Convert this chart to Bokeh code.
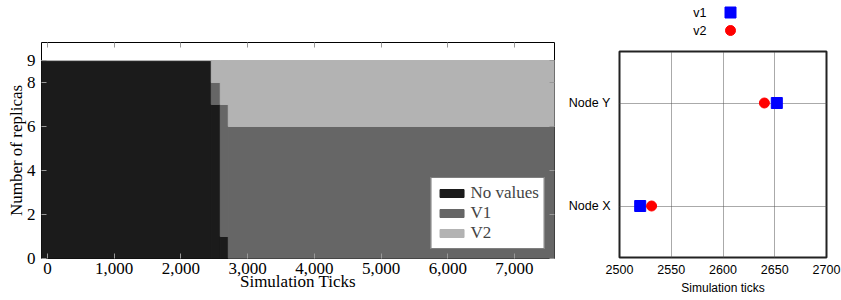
from bokeh.plotting import figure
from bokeh.layouts import row, column
from bokeh.models import (Range1d, FactorRange, FixedTicker, NumeralTickFormatter,
                          ColumnDataSource, LinearAxis)
from bokeh.embed import file_html
from bokeh.resources import INLINE

# ---- left chart data: replica states over time (step boundaries) ----
t_edges = [-90, 2455, 2590, 2710, 7600]
no_values = [9, 7, 1, 0]
v1_counts = [0, 1, 6, 6]
v2_counts = [0, 1, 2, 3]
left_yticks = [0, 2, 4, 6, 8, 9]
left_xticks = [0, 1000, 2000, 3000, 4000, 5000, 6000, 7000]

# ---- right chart data ----
nodes = ["Node X", "Node Y"]
v1_ticks = [2520, 2652]
v2_ticks = [2531, 2640]
right_xticks = [2500, 2550, 2600, 2650, 2700]
series_names = ["v1", "v2"]

SERIF = "Liberation Serif"
SANS = "Liberation Sans"

mids = [(a + b) / 2 for a, b in zip(t_edges[:-1], t_edges[1:])]
widths = [b - a for a, b in zip(t_edges[:-1], t_edges[1:])]
src = ColumnDataSource(dict(mid=mids, w=widths, nv=no_values, v1=v1_counts, v2=v2_counts))

p1 = figure(width=564, height=298, output_backend="svg", toolbar_location=None,
            x_range=Range1d(t_edges[0], t_edges[-1]), y_range=Range1d(0, 9.82),
            frame_align=False,
            min_border_left=41, min_border_right=10, min_border_top=42, min_border_bottom=40)
rs = p1.vbar_stack(["nv", "v1", "v2"], x="mid", width="w", source=src,
                   color=["#1b1b1b", "#666666", "#b3b3b3"], line_width=1,
                   legend_label=["No values", "V1", "V2"])
p1.xgrid.visible = False
p1.ygrid.visible = False
p1.outline_line_color = "black"
p1.outline_line_width = 1
p1.xaxis.ticker = FixedTicker(ticks=left_xticks)
p1.xaxis.formatter = NumeralTickFormatter(format="0,0")
p1.yaxis.ticker = FixedTicker(ticks=left_yticks)
p1.xaxis.axis_label = "Simulation Ticks"
p1.yaxis.axis_label = "Number of replicas"
for ax in (p1.xaxis[0], p1.yaxis[0]):
    ax.axis_line_color = None
    ax.major_tick_in = 5
    ax.major_tick_out = 0
    ax.major_tick_line_color = "#999999"
    ax.minor_tick_line_color = None
    ax.major_label_text_font = SERIF
    ax.major_label_text_font_size = "17px"
    ax.major_label_text_color = "black"
    ax.axis_label_text_font = SERIF
    ax.axis_label_text_font_size = "17px"
    ax.axis_label_text_font_style = "normal"
    ax.axis_label_text_color = "black"
p1.xaxis.major_label_standoff = 4
p1.xaxis.axis_label_standoff = -5
p1.yaxis.major_label_standoff = 6
p1.yaxis.axis_label_standoff = -2

# mirrored inner ticks on the top and right edges (labels not painted)
top_ax = LinearAxis(ticker=FixedTicker(ticks=left_xticks), axis_line_color=None,
                    major_tick_in=5, major_tick_out=0, major_tick_line_color="#999999",
                    minor_tick_line_color=None, major_label_text_color=None,
                    major_label_standoff=0, major_label_text_font_size="10px")
right_ax = LinearAxis(ticker=FixedTicker(ticks=left_yticks), axis_line_color=None,
                      major_tick_in=5, major_tick_out=0, major_tick_line_color="#999999",
                      minor_tick_line_color=None, major_label_text_color=None,
                      major_label_standoff=0, major_label_text_font_size="8px")
p1.add_layout(top_ax, "above")
p1.add_layout(right_ax, "right")

leg1 = p1.legend[0]
leg1.location = "bottom_right"
leg1.margin = 9
leg1.padding = 5
leg1.spacing = 0
leg1.glyph_width = 30
leg1.glyph_height = 10
leg1.label_height = 20
leg1.label_standoff = 4
leg1.label_text_font = SERIF
leg1.label_text_font_size = "17px"
leg1.border_line_color = "black"
leg1.border_line_width = 1
leg1.background_fill_alpha = 1

# ---- right chart: key (label left of marker) ----
pk = figure(width=277, height=42, output_backend="svg", toolbar_location=None,
            x_range=Range1d(-1, 1), y_range=FactorRange(factors=series_names[::-1], range_padding=0),
            x_axis_location=None, frame_align=False,
            min_border_left=157, min_border_right=102, min_border_top=3, min_border_bottom=3)
pk.outline_line_color = None
pk.xgrid.visible = False
pk.ygrid.visible = False
pk.scatter([0], [series_names[0]], marker="square", size=11, color="#0000ff")
pk.scatter([0], [series_names[1]], marker="circle", size=10, color="#ff0000")
pk.yaxis.axis_line_color = None
pk.yaxis.major_tick_line_color = None
pk.yaxis.minor_tick_line_color = None
pk.yaxis.major_label_standoff = 9
pk.yaxis.major_label_text_font = SANS
pk.yaxis.major_label_text_font_size = "12.5px"
pk.yaxis.major_label_text_color = "black"

# ---- right chart ----
p2 = figure(width=277, height=256, output_backend="svg", toolbar_location=None,
            x_range=Range1d(right_xticks[0], right_xticks[-1]),
            y_range=FactorRange(factors=nodes, range_padding=0),
            frame_align=False,
            min_border_left=55, min_border_right=15, min_border_top=9, min_border_bottom=41)
p2.scatter(v1_ticks, nodes, marker="square", size=11, color="#0000ff")
p2.scatter(v2_ticks, nodes, marker="circle", size=10, color="#ff0000")
p2.outline_line_color = "#222222"
p2.outline_line_width = 2
p2.xaxis.ticker = FixedTicker(ticks=right_xticks)
p2.xaxis.axis_label = "Simulation ticks"
for g in (p2.xgrid[0], p2.ygrid[0]):
    g.grid_line_color = "#555555"
    g.grid_line_dash = "1 1"
    g.grid_line_width = 1
for ax in (p2.xaxis[0], p2.yaxis[0]):
    ax.axis_line_color = None
    ax.major_tick_in = 0
    ax.major_tick_out = 0
    ax.minor_tick_line_color = None
    ax.major_label_text_font = SANS
    ax.major_label_text_font_size = "12.5px"
    ax.major_label_text_color = "black"
    ax.axis_label_text_font = SANS
    ax.axis_label_text_font_size = "12px"
    ax.axis_label_text_font_style = "normal"
    ax.axis_label_text_color = "black"
p2.xaxis.major_label_standoff = 7
p2.xaxis.axis_label_standoff = 4
p2.yaxis.major_label_standoff = 9

layout = row(p1, column(pk, p2, spacing=0), spacing=0)
open("out.html", "w").write(file_html(layout, INLINE))
